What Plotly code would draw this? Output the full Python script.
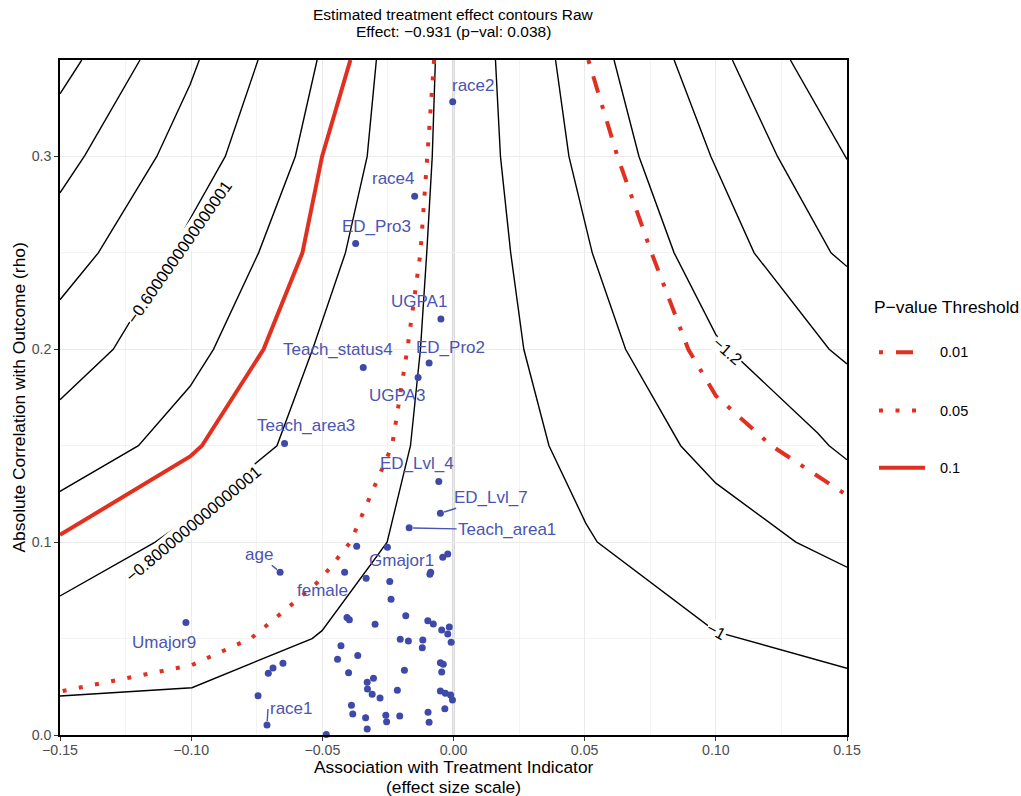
import plotly.graph_objects as go

# ---------------- data ----------------
# black contour lines (treatment-effect contours), left side
blk_a_x = [-0.1417, -0.15]
blk_a_y = [0.35, 0.3325]
blk_b_x = [-0.1195, -0.1405, -0.15]
blk_b_y = [0.35, 0.3005, 0.2811]
blk_c_x = [-0.0969, -0.1004, -0.1131, -0.1354, -0.15]
blk_c_y = [0.35, 0.3373, 0.30, 0.25, 0.2257]
blk_d_x = [-0.0745, -0.087, -0.1, -0.1075, -0.1297, -0.15]          # -0.6 contour
blk_d_y = [0.35, 0.30, 0.2686, 0.25, 0.20, 0.1738]
blk_e_x = [-0.052, -0.0603, -0.0743, -0.0915, -0.1004, -0.1201, -0.15]
blk_e_y = [0.35, 0.30, 0.25, 0.20, 0.1808, 0.15, 0.1263]
blk_f_x = [-0.0294, -0.0329, -0.0412, -0.0537, -0.0673, -0.1001, -0.1137, -0.15]  # -0.8 contour
blk_f_y = [0.35, 0.30, 0.25, 0.20, 0.15, 0.1131, 0.10, 0.0721]
blk_g_x = [-0.0069, -0.0081, -0.0102, -0.0126, -0.0164, -0.0253, -0.0501, -0.0539, -0.0997, -0.15]
blk_g_y = [0.35, 0.30, 0.25, 0.20, 0.15, 0.10, 0.0541, 0.05, 0.0245, 0.0202]
# black contour lines, right side
blk_h_x = [0.016, 0.0179, 0.0218, 0.0268, 0.0364, 0.0504, 0.0548, 0.1, 0.15]   # -1 contour
blk_h_y = [0.35, 0.30, 0.25, 0.20, 0.15, 0.1099, 0.10, 0.0536, 0.0346]
blk_i_x = [0.0389, 0.044, 0.0529, 0.0656, 0.0866, 0.1, 0.1305, 0.15]
blk_i_y = [0.35, 0.30, 0.25, 0.20, 0.15, 0.1306, 0.10, 0.087]
blk_j_x = [0.0612, 0.0707, 0.0841, 0.1, 0.1049, 0.1388, 0.1432, 0.15]    # -1.2 contour
blk_j_y = [0.35, 0.30, 0.25, 0.2076, 0.20, 0.1566, 0.15, 0.1427]
blk_k_x = [0.0841, 0.0981, 0.1146, 0.1432, 0.15]
blk_k_y = [0.35, 0.30, 0.25, 0.20, 0.1924]
blk_l_x = [0.1063, 0.1235, 0.1439, 0.15]
blk_l_y = [0.35, 0.30, 0.25, 0.2429]
blk_m_x = [0.1284, 0.15]
blk_m_y = [0.35, 0.2984]

# p-value threshold contours
p010_x = [-0.0393, -0.0501, -0.0576, -0.0724, -0.0959, -0.1004, -0.15]
p010_y = [0.35, 0.30, 0.25, 0.20, 0.15, 0.1444, 0.1038]
p005_x = [-0.0074, -0.01, -0.0126, -0.0176, -0.0234, -0.0393, -0.0508, -0.0603, -0.0771, -0.0997, -0.15]
p005_y = [0.35, 0.30, 0.25, 0.20, 0.15, 0.10, 0.0804, 0.0692, 0.0502, 0.0363, 0.0225]
p001_x = [0.0514, 0.0625, 0.0755, 0.0895, 0.1, 0.1212, 0.15]
p001_y = [0.35, 0.30, 0.25, 0.20, 0.1759, 0.15, 0.1243]

# contour label values and their positions
contour_label_text = ["\u22120.6000000000000001", "\u22120.8000000000000001", "\u22121.2", "\u22121"]
contour_label_x = [-0.1046, -0.0994, 0.1045, 0.1004]
contour_label_y = [0.2504, 0.1095, 0.1989, 0.0540]

# labelled covariates
cov_names = ["race2", "race4", "ED_Pro3", "UGPA1", "ED_Pro2", "Teach_status4", "UGPA3",
             "Teach_area3", "ED_Lvl_4", "ED_Lvl_7", "Teach_area1", "Gmajor1", "age",
             "female", "Umajor9", "race1"]
cov_x = [-0.0003, -0.0148, -0.0373, -0.0048, -0.0093, -0.0344, -0.0135, -0.0644, -0.0056,
         -0.0050, -0.0169, -0.0252, -0.0661, -0.0415, -0.1020, -0.0711]
cov_y = [0.3283, 0.2793, 0.2548, 0.2157, 0.1929, 0.1906, 0.1854, 0.1512, 0.1314, 0.1150,
         0.1074, 0.0974, 0.0844, 0.0844, 0.0583, 0.0052]

# unlabelled covariates
other_x = [-0.0369, -0.0041, -0.0022, -0.0333, -0.0087, -0.0090, -0.0243, -0.0238, -0.0406,
           -0.0397, -0.0299, -0.0182, -0.0098, -0.0077, -0.0045, -0.0016, -0.0022, -0.0009,
           -0.0203, -0.0172, -0.0117, -0.0119, -0.0429, -0.0442, -0.0365, -0.0650, -0.0688,
           -0.0706, -0.0050, -0.0039, -0.0045, -0.0400, -0.0187, -0.0305, -0.0329, -0.0328,
           -0.0310, -0.0280, -0.0214, -0.0050, -0.0031, -0.0011, -0.0004, -0.0745, -0.0389,
           -0.0384, -0.0335, -0.0329, -0.0258, -0.0255, -0.0205, -0.0097, -0.0093, -0.0033,
           -0.0485]
other_y = [0.0979, 0.0922, 0.0939, 0.0813, 0.0844, 0.0834, 0.0796, 0.0704, 0.0609,
           0.0597, 0.0574, 0.0618, 0.0592, 0.0576, 0.0545, 0.0560, 0.0524, 0.0481,
           0.0497, 0.0488, 0.0493, 0.0453, 0.0463, 0.0393, 0.0412, 0.0372, 0.0348,
           0.0320, 0.0375, 0.0367, 0.0327, 0.0323, 0.0336, 0.0294, 0.0273, 0.0239,
           0.0211, 0.0192, 0.0232, 0.0228, 0.0216, 0.0208, 0.0182, 0.0204, 0.0154,
           0.0109, 0.0090, 0.0031, 0.0102, 0.0069, 0.0099, 0.0118, 0.0066, 0.0136,
           0.0002]

x_ticks = [-0.15, -0.10, -0.05, 0.0, 0.05, 0.10, 0.15]
x_ticktext = ["\u22120.15", "\u22120.10", "\u22120.05", "0.00", "0.05", "0.10", "0.15"]
y_ticks = [0.0, 0.1, 0.2, 0.3]
y_ticktext = ["0.0", "0.1", "0.2", "0.3"]

legend_labels = ["0.01", "0.05", "0.1"]

# ---------------- styling ----------------
FONT = "Liberation Sans, Arial, sans-serif"
RED = "#E1301F"
PT_COL = "#3E49A9"
TXT_COL = "#4A54B2"
DASH_001 = "4px,13px,17px,13px"
DASH_005 = "4px,12.5px"

fig = go.Figure()

black_lines = [(blk_a_x, blk_a_y), (blk_b_x, blk_b_y), (blk_c_x, blk_c_y), (blk_d_x, blk_d_y),
               (blk_e_x, blk_e_y), (blk_f_x, blk_f_y), (blk_g_x, blk_g_y), (blk_h_x, blk_h_y),
               (blk_i_x, blk_i_y), (blk_j_x, blk_j_y), (blk_k_x, blk_k_y), (blk_l_x, blk_l_y),
               (blk_m_x, blk_m_y)]
for lx, ly in black_lines:
    fig.add_trace(go.Scatter(x=lx, y=ly, mode="lines", line=dict(color="black", width=1.4),
                             showlegend=False, hoverinfo="skip"))

for lx, ly, dash in [(p001_x, p001_y, DASH_001), (p005_x, p005_y, DASH_005), (p010_x, p010_y, "solid")]:
    fig.add_trace(go.Scatter(x=lx, y=ly, mode="lines", line=dict(color=RED, width=4, dash=dash),
                             showlegend=False, hoverinfo="skip"))

fig.add_trace(go.Scatter(x=other_x + cov_x, y=other_y + cov_y, mode="markers",
                         marker=dict(color=PT_COL, size=7), cliponaxis=False,
                         showlegend=False))

annotations = []
# title
annotations.append(dict(text="Estimated treatment effect contours Raw", xref="paper", yref="paper",
                        x=0.5, y=(735 - 14) / 675, xanchor="center", yanchor="middle",
                        showarrow=False, font=dict(size=15.5, color="black", family=FONT)))
annotations.append(dict(text="Effect: \u22120.931 (p\u2212val: 0.038)", xref="paper", yref="paper",
                        x=0.5, y=(735 - 31) / 675, xanchor="center", yanchor="middle",
                        showarrow=False, font=dict(size=15.5, color="black", family=FONT)))
# axis titles
annotations.append(dict(text="Association with Treatment Indicator", xref="paper", yref="paper",
                        x=0.5, y=(735 - 767) / 675, xanchor="center", yanchor="middle",
                        borderpad=0, showarrow=False, font=dict(size=17.4, color="black", family=FONT)))
annotations.append(dict(text="(effect size scale)", xref="paper", yref="paper",
                        x=0.5, y=(735 - 786.5) / 675, xanchor="center", yanchor="middle",
                        borderpad=0, showarrow=False, font=dict(size=17.4, color="black", family=FONT)))
annotations.append(dict(text="Absolute Correlation with Outcome (rho)", xref="paper", yref="paper",
                        x=(18 - 60) / 787, y=0.5, xanchor="center", yanchor="middle", textangle=-90,
                        showarrow=False, font=dict(size=17.4, color="black", family=FONT)))

# contour labels
contour_angles = [-55, -40, 41, 28]
for t, cx, cy, ang in zip(contour_label_text, contour_label_x, contour_label_y, contour_angles):
    annotations.append(dict(text=t, x=cx, y=cy, xref="x", yref="y", showarrow=False,
                            textangle=ang, bgcolor="white", borderpad=0,
                            font=dict(size=16.5, color="black", family=FONT)))

# covariate labels: offsets in pixels (layout, not data)
shift_offsets = {
    "race2": (21, 16), "race4": (-21.5, 17.7), "ED_Pro3": (21.2, 17.3), "UGPA1": (-22, 17.6),
    "ED_Pro2": (21.3, 15.3), "Teach_status4": (-25.5, 17.7), "UGPA3": (-20.7, -18.3),
    "Teach_area3": (21.5, 17.7), "ED_Lvl_4": (-21.8, 18.4), "female": (-22.6, -18.7),
    "Gmajor1": (14.3, -13.4), "Umajor9": (-21.5, -20),
}
# (ax, ay, xanchor) for labels joined to their point by a segment
arrow_offsets = {
    "ED_Lvl_7": (50.5, -16, "auto"), "Teach_area1": (98, 2, "auto"),
    "age": (-21.4, -18, "auto"), "race1": (1, -16, "left"),
}
for name, px, py in zip(cov_names, cov_x, cov_y):
    if name in shift_offsets:
        dx, dy = shift_offsets[name]
        annotations.append(dict(text=name, x=px, y=py, xref="x", yref="y", showarrow=False,
                                xshift=dx, yshift=dy, xanchor="center", yanchor="middle",
                                font=dict(size=17, color=TXT_COL, family=FONT)))
    else:
        ax, ay, xa = arrow_offsets[name]
        annotations.append(dict(text=name, x=px, y=py, xref="x", yref="y", showarrow=True,
                                ax=ax, ay=ay, xanchor=xa, arrowhead=0, arrowwidth=1.4,
                                arrowcolor=TXT_COL, standoff=4,
                                font=dict(size=17, color=TXT_COL, family=FONT)))

# manual legend
annotations.append(dict(text="P\u2212value Threshold", xref="paper", yref="paper",
                        x=(872 - 60) / 787, y=(735 - 307) / 675, xanchor="left", yanchor="middle",
                        showarrow=False, font=dict(size=17.4, color="black", family=FONT)))
legend_y_px = [352.3, 410.5, 467.7]
legend_dashes = [DASH_001, DASH_005, "solid"]
shapes = []
for lab, ly, dsh in zip(legend_labels, legend_y_px, legend_dashes):
    yp = (735 - ly) / 675
    shapes.append(dict(type="line", xref="paper", yref="paper", x0=(879 - 60) / 787,
                       x1=(925 - 60) / 787, y0=yp, y1=yp, line=dict(color=RED, width=4, dash=dsh)))
    annotations.append(dict(text=lab, xref="paper", yref="paper", x=(938 - 60) / 787, y=yp,
                            xanchor="left", yanchor="middle", showarrow=False,
                            font=dict(size=14.5, color="black", family=FONT)))

# reference line at zero association
shapes.append(dict(type="line", xref="x", yref="paper", x0=0, x1=0, y0=0, y1=1, layer="below",
                   line=dict(color="#B5B5B5", width=2)))

fig.update_layout(
    width=1021, height=796,
    margin=dict(l=60, r=174, t=60, b=61),
    paper_bgcolor="white", plot_bgcolor="white",
    font=dict(family=FONT),
    showlegend=False,
    annotations=annotations,
    shapes=shapes,
    xaxis=dict(range=[-0.15, 0.15], tickvals=x_ticks, ticktext=x_ticktext,
               showgrid=True, gridcolor="#EBEBEB", gridwidth=1.1,
               minor=dict(dtick=0.025, tick0=-0.15, showgrid=True, gridcolor="#F3F3F3", gridwidth=0.7),
               showline=True, mirror=True, linecolor="black", linewidth=1.5,
               ticks="outside", ticklen=4, tickcolor="#333333", tickwidth=1,
               ticklabelstandoff=-3,
               tickfont=dict(size=14.2, color="#4D4D4D", family=FONT), zeroline=False),
    yaxis=dict(range=[0, 0.35], tickvals=y_ticks, ticktext=y_ticktext,
               showgrid=True, gridcolor="#EBEBEB", gridwidth=1.1,
               minor=dict(dtick=0.05, tick0=0, showgrid=True, gridcolor="#F3F3F3", gridwidth=0.7),
               showline=True, mirror=True, linecolor="black", linewidth=1.5,
               ticks="outside", ticklen=4, tickcolor="#333333", tickwidth=1,
               tickfont=dict(size=14.2, color="#4D4D4D", family=FONT), zeroline=False),
)

fig.write_html("out.html")
